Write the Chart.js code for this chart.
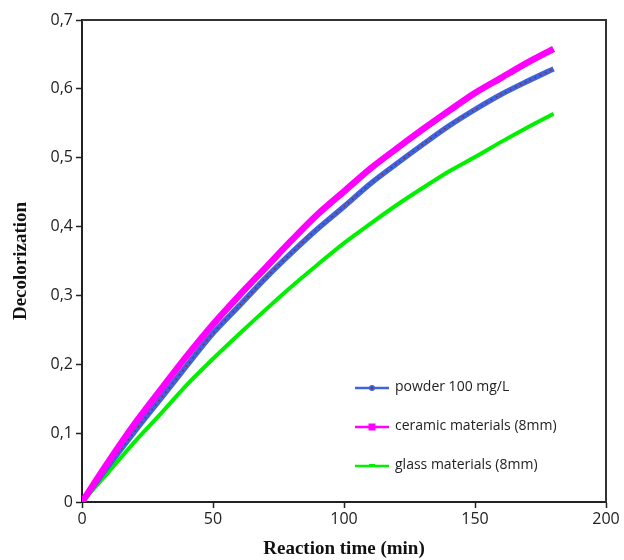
<!DOCTYPE html>
<html>
<head>
<meta charset="utf-8">
<script src="https://cdn.jsdelivr.net/npm/chart.js@4.4.1/dist/chart.umd.min.js"></script>
<style>
  html, body { margin: 0; padding: 0; background: #fff; }
  #wrap { width: 624px; height: 560px; }
</style>
</head>
<body>
<div id="wrap"><canvas id="decolChart" width="624" height="560"></canvas></div>
<script>
// reaction time (min)
const times = [0, 10, 20, 30, 40, 50, 60, 70, 80, 90, 100, 110, 120, 130, 140, 150, 160, 170, 180];

// decolorization values
const powder = [0, 0.052, 0.102, 0.150, 0.198, 0.245, 0.285, 0.325, 0.362, 0.397, 0.429, 0.462, 0.491, 0.519, 0.546, 0.570, 0.592, 0.611, 0.629];
const ceramic = [0, 0.058, 0.113, 0.163, 0.212, 0.258, 0.300, 0.340, 0.380, 0.418, 0.451, 0.484, 0.513, 0.541, 0.568, 0.594, 0.616, 0.638, 0.658];
const glass = [0, 0.043, 0.087, 0.128, 0.170, 0.208, 0.244, 0.279, 0.313, 0.345, 0.376, 0.404, 0.431, 0.456, 0.480, 0.501, 0.523, 0.544, 0.564];

const seriesNames = ['powder 100 mg/L', 'ceramic materials (8mm)', 'glass materials (8mm)'];
const xTicks = [0, 50, 100, 150, 200];

function toPoints(arr) {
    return arr.map((v, i) => ({ x: times[i], y: v }));
}

function fmtComma(v) {
    if (Math.abs(v) < 1e-9) return '0';
    return v.toFixed(1).replace('.', ',');
}

// legend drawn inside the plot, bottom right (figure order)
const innerLegend = {
    id: 'innerLegend',
    afterDraw(chart) {
        const ctx = chart.ctx;
        const area = chart.chartArea;
        const items = seriesNames.map(n => chart.data.datasets.find(d => d.label === n));
        ctx.save();
        items.forEach((ds, i) => {
            const y = area.top + 368 + i * 39;
            const x0 = area.left + 273;
            const x1 = x0 + 34;
            ctx.strokeStyle = ds.borderColor;
            ctx.lineWidth = 2.5;
            ctx.beginPath();
            ctx.moveTo(x0, y);
            ctx.lineTo(x1, y);
            ctx.stroke();
            const cx = (x0 + x1) / 2;
            ctx.fillStyle = ds.borderColor;
            if (ds.legendMarker === 'circle') {
                ctx.beginPath();
                ctx.arc(cx, y, 3, 0, Math.PI * 2);
                ctx.fill();
                ctx.fillStyle = '#8b2a3a';
                ctx.beginPath();
                ctx.arc(cx, y, 1.2, 0, Math.PI * 2);
                ctx.fill();
            } else if (ds.legendMarker === 'square') {
                ctx.fillRect(cx - 3.5, y - 3.5, 7, 7);
            } else {
                ctx.fillRect(cx - 3, y - 2, 6, 3);
            }
            ctx.fillStyle = '#222';
            ctx.font = '14px "Open Sans"';
            ctx.textBaseline = 'middle';
            ctx.fillText(ds.label, x1 + 6, y - 1);
        });
        // top and right frame
        ctx.strokeStyle = '#333';
        ctx.lineWidth = 2;
        ctx.beginPath();
        ctx.moveTo(area.left, area.top);
        ctx.lineTo(area.right, area.top);
        ctx.lineTo(area.right, area.bottom);
        ctx.stroke();
        ctx.restore();
    }
};

const chartData = {
    datasets: [
        {
            label: seriesNames[1],
            data: toPoints(ceramic),
            borderColor: '#ff00ff',
            borderWidth: 6.5,
            pointRadius: 0,
            tension: 0.3,
            legendMarker: 'square',
            order: 1
        },
        {
            label: '',
            data: toPoints(powder),
            borderColor: '#8b2a3a',
            borderWidth: 1.6,
            borderDash: [1.5, 4],
            pointRadius: 0,
            tension: 0.3,
            order: 2
        },
        {
            label: seriesNames[0],
            data: toPoints(powder),
            borderColor: '#3d63dd',
            borderWidth: 5.5,
            pointRadius: 0,
            tension: 0.3,
            legendMarker: 'circle',
            order: 3
        },
        {
            label: seriesNames[2],
            data: toPoints(glass),
            borderColor: '#00f000',
            borderWidth: 4,
            pointRadius: 0,
            tension: 0.3,
            legendMarker: 'dash',
            order: 4
        }
    ]
};

const config = {
    type: 'line',
    data: chartData,
    options: {
        responsive: false,
        animation: false,
        layout: { padding: { top: 20, right: 18, left: 0, bottom: 0 } },
        scales: {
            x: {
                type: 'linear',
                min: 0,
                max: 200,
                afterBuildTicks: (scale) => { scale.ticks = xTicks.map(v => ({ value: v })); },
                afterFit: (scale) => { scale.height = 58; },
                grid: { display: true, drawOnChartArea: false, drawTicks: true, tickLength: 6, tickColor: '#222', tickWidth: 1.5 },
                border: { display: true, color: '#222', width: 2 },
                ticks: { color: '#222', font: { family: 'Open Sans', size: 16 }, padding: 2, maxRotation: 0 },
                title: { display: true, text: 'Reaction time (min)', color: '#111', font: { family: 'Liberation Serif', size: 19, weight: 'bold' }, padding: { top: 0, bottom: 0 } }
            },
            y: {
                min: 0,
                max: 0.7,
                ticks: { stepSize: 0.1, color: '#222', font: { family: 'Open Sans', size: 16 }, padding: 3, callback: (v) => fmtComma(v) },
                afterFit: (scale) => { scale.width = 82; },
                grid: { display: true, drawOnChartArea: false, drawTicks: true, tickLength: 6, tickColor: '#222', tickWidth: 1.5 },
                border: { display: true, color: '#222', width: 2 },
                title: { display: true, text: 'Decolorization', color: '#111', font: { family: 'Liberation Serif', size: 19, weight: 'bold' }, padding: { top: 10, bottom: 0 } }
            }
        },
        plugins: {
            legend: { display: false },
            tooltip: { enabled: false }
        }
    },
    plugins: [innerLegend]
};

const decolCtx = document.getElementById('decolChart').getContext('2d');
const decolChart = new Chart(decolCtx, config);
</script>
</body>
</html>
